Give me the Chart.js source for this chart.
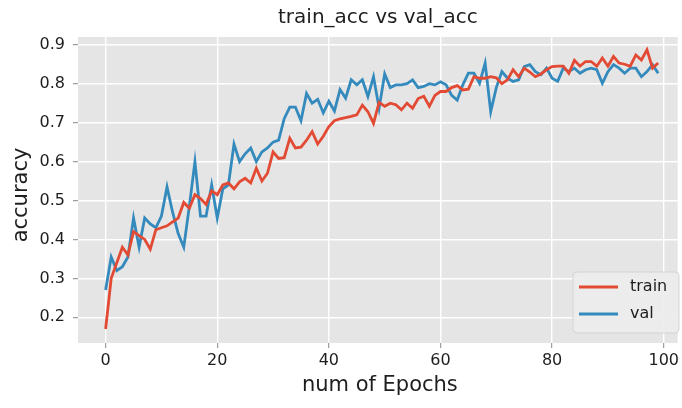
<!DOCTYPE html>
<html>
<head>
<meta charset="utf-8">
<script src="https://cdn.jsdelivr.net/npm/chart.js@4.4.1/dist/chart.umd.min.js"></script>
<style>
  html, body { margin: 0; padding: 0; background: #ffffff; }
  canvas { display: block; }
</style>
</head>
<body>
<canvas id="c" width="682" height="408"></canvas>
<script>
const epochs = [0,1,2,3,4,5,6,7,8,9,10,11,12,13,14,15,16,17,18,19,20,21,22,23,24,25,26,27,28,29,30,31,32,33,34,35,36,37,38,39,40,41,42,43,44,45,46,47,48,49,50,51,52,53,54,55,56,57,58,59,60,61,62,63,64,65,66,67,68,69,70,71,72,73,74,75,76,77,78,79,80,81,82,83,84,85,86,87,88,89,90,91,92,93,94,95,96,97,98,99];
const trainAcc = [0.17,0.30,0.34,0.38,0.36,0.42,0.41,0.40,0.375,0.425,
  0.43,0.435,0.445,0.455,0.495,0.48,0.515,0.505,0.49,0.525,
  0.515,0.54,0.545,0.53,0.548,0.557,0.545,0.583,0.55,0.57,
  0.625,0.608,0.61,0.66,0.635,0.637,0.655,0.677,0.645,0.665,
  0.69,0.705,0.71,0.713,0.716,0.72,0.745,0.728,0.698,0.752,
  0.742,0.75,0.746,0.733,0.75,0.737,0.762,0.768,0.742,0.77,
  0.78,0.78,0.79,0.795,0.784,0.786,0.818,0.814,0.814,0.818,
  0.815,0.80,0.81,0.836,0.818,0.84,0.83,0.818,0.825,0.836,
  0.844,0.845,0.845,0.827,0.86,0.845,0.857,0.857,0.845,0.866,
  0.845,0.87,0.853,0.85,0.845,0.874,0.861,0.887,0.84,0.853];
const valAcc = [0.27,0.355,0.32,0.33,0.355,0.455,0.38,0.455,0.44,0.43,
  0.46,0.535,0.47,0.415,0.38,0.485,0.60,0.46,0.46,0.54,
  0.455,0.53,0.54,0.645,0.60,0.62,0.635,0.60,0.625,0.635,
  0.65,0.655,0.71,0.74,0.74,0.705,0.775,0.75,0.76,0.725,
  0.755,0.73,0.785,0.763,0.81,0.797,0.81,0.767,0.818,0.737,
  0.825,0.79,0.797,0.797,0.80,0.81,0.79,0.793,0.80,0.797,
  0.805,0.797,0.77,0.758,0.797,0.827,0.827,0.801,0.853,0.728,
  0.79,0.831,0.814,0.806,0.81,0.844,0.849,0.831,0.823,0.84,
  0.814,0.806,0.84,0.831,0.84,0.827,0.836,0.84,0.836,0.801,
  0.831,0.849,0.84,0.827,0.84,0.84,0.818,0.831,0.849,0.827];
const xTicks = [0,20,40,60,80,100];
const yTicks = [0.2,0.3,0.4,0.5,0.6,0.7,0.8,0.9];
const seriesNames = ['train','val'];
const titleText = 'train_acc vs val_acc';
const xTitle = 'num of Epochs';
const yTitle = 'accuracy';

const RED = '#E24A33', BLUE = '#348ABD';
const FONT = '"DejaVu Sans", sans-serif';
const TXT = '#1e1e1e';

const decor = {
  id: 'decor',
  beforeDraw(chart) {
    const ctx = chart.ctx, a = chart.chartArea;
    ctx.save();
    ctx.fillStyle = '#ffffff';
    ctx.fillRect(0, 0, chart.width, chart.height);
    ctx.fillStyle = '#E5E5E5';
    ctx.fillRect(a.left, a.top, a.right - a.left, a.bottom - a.top);
    ctx.restore();
  },
  afterDraw(chart) {
    const ctx = chart.ctx, a = chart.chartArea;
    ctx.save();
    ctx.fillStyle = TXT;
    ctx.textAlign = 'center';
    ctx.textBaseline = 'middle';
    ctx.font = '20px ' + FONT;
    ctx.fillText(titleText, (a.left + a.right) / 2, 18);
    ctx.font = '21px ' + FONT;
    ctx.fillText(xTitle, (a.left + a.right) / 2 + 2, 386);
    ctx.save();
    ctx.translate(22, (a.top + a.bottom) / 2 + 5);
    ctx.rotate(-Math.PI / 2);
    ctx.fillText(yTitle, 0, 0);
    ctx.restore();

    // legend
    const bx = 573, by = 272, bw = 106, bh = 61, r = 4;
    ctx.beginPath();
    ctx.moveTo(bx + r, by);
    ctx.lineTo(bx + bw - r, by);
    ctx.quadraticCurveTo(bx + bw, by, bx + bw, by + r);
    ctx.lineTo(bx + bw, by + bh - r);
    ctx.quadraticCurveTo(bx + bw, by + bh, bx + bw - r, by + bh);
    ctx.lineTo(bx + r, by + bh);
    ctx.quadraticCurveTo(bx, by + bh, bx, by + bh - r);
    ctx.lineTo(bx, by + r);
    ctx.quadraticCurveTo(bx, by, bx + r, by);
    ctx.closePath();
    ctx.fillStyle = 'rgba(236,236,236,0.9)';
    ctx.fill();
    ctx.strokeStyle = '#D4D4D4';
    ctx.lineWidth = 1;
    ctx.stroke();
    const ys = [287, 314];
    chart.data.datasets.forEach((ds, i) => {
      ctx.strokeStyle = ds.borderColor;
      ctx.lineWidth = 2.8;
      ctx.beginPath();
      ctx.moveTo(579, ys[i]);
      ctx.lineTo(618, ys[i]);
      ctx.stroke();
      ctx.fillStyle = TXT;
      ctx.textAlign = 'left';
      ctx.font = '16px ' + FONT;
      ctx.fillText(ds.label, 630, ys[i]);
    });
    ctx.restore();
  }
};

new Chart(document.getElementById('c'), {
  type: 'line',
  data: {
    datasets: [
      { label: seriesNames[0], data: trainAcc.map((v, i) => ({ x: epochs[i], y: v })),
        borderColor: RED, backgroundColor: RED, borderWidth: 2.8, pointRadius: 0, tension: 0, fill: false },
      { label: seriesNames[1], data: valAcc.map((v, i) => ({ x: epochs[i], y: v })),
        borderColor: BLUE, backgroundColor: BLUE, borderWidth: 2.8, pointRadius: 0, tension: 0, fill: false }
    ]
  },
  options: {
    responsive: false,
    devicePixelRatio: 1,
    animation: false,
    layout: { padding: { top: 37, right: 0, left: 0, bottom: 0 } },
    plugins: { legend: { display: false }, title: { display: false }, tooltip: { enabled: false } },
    scales: {
      x: {
        type: 'linear', min: -4.95, max: 102.5,
        afterBuildTicks: s => { s.ticks = xTicks.map(v => ({ value: v })); },
        afterFit: s => { s.height = 65; },
        grid: { color: '#ffffff', lineWidth: 1.4, tickColor: '#888888', tickLength: 5, tickWidth: 1 },
        border: { display: false },
        ticks: { font: { family: FONT, size: 16 }, color: TXT, padding: 3, maxRotation: 0, autoSkip: false,
                 callback: v => String(v) }
      },
      y: {
        type: 'linear', min: 0.134, max: 0.92,
        afterBuildTicks: s => { s.ticks = yTicks.map(v => ({ value: v })); },
        afterFit: s => { s.width = 78; },
        grid: { color: '#ffffff', lineWidth: 1.4, tickColor: '#888888', tickLength: 5, tickWidth: 1 },
        border: { display: false },
        ticks: { font: { family: FONT, size: 16 }, color: TXT, padding: 8, autoSkip: false,
                 callback: v => v.toFixed(1) }
      }
    }
  },
  plugins: [decor]
});
</script>
</body>
</html>
